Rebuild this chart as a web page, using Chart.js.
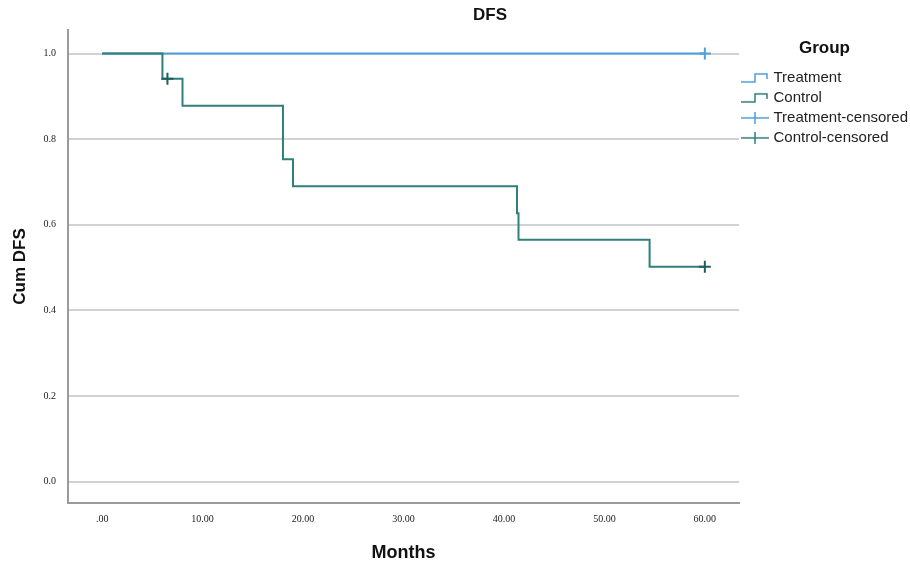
<!DOCTYPE html>
<html>
<head>
<meta charset="utf-8">
<script src="https://cdn.jsdelivr.net/npm/chart.js@4"></script>
<style>
html,body{margin:0;padding:0;background:#fff;}
#wrap{position:relative;width:910px;height:564px;}
</style>
</head>
<body>
<div id="wrap"><canvas id="c" width="910" height="564"></canvas></div>
<script>
// ---- data ----
const chartTitle = "DFS";
const xAxisTitle = "Months";
const yAxisTitle = "Cum DFS";
const legendTitle = "Group";
const seriesNames = ["Treatment", "Control", "Treatment-censored", "Control-censored"];
const xTicks = [0, 10, 20, 30, 40, 50, 60];
const yTicks = [0.0, 0.2, 0.4, 0.6, 0.8, 1.0];
const treatmentTimes = [0, 60];
const treatmentSurv = [1.0, 1.0];
const controlTimes = [0, 6, 8, 18, 19, 41.3, 41.45, 54.5, 60];
const controlSurv = [1.0, 0.941, 0.878, 0.753, 0.690, 0.627, 0.565, 0.502, 0.502];
const treatmentCensTimes = [60];
const treatmentCensSurv = [1.0];
const controlCensTimes = [6.5, 60];
const controlCensSurv = [0.941, 0.502];

const cTreat = "#4f9fdc";
const cControl = "#2f7f7c";
const cControlCens = "#1d5e5a";

function pts(xs, ys){ return xs.map((x,i)=>({x:x, y:ys[i]})); }

function stepIcon(color){
  const c = document.createElement('canvas'); c.width = 30; c.height = 14;
  const g = c.getContext('2d');
  g.strokeStyle = color; g.lineWidth = 1.5;
  g.beginPath();
  g.moveTo(1, 11); g.lineTo(15, 11); g.lineTo(15, 3); g.lineTo(27, 3); g.lineTo(27, 8);
  g.stroke();
  return c;
}
function crossIcon(color){
  const c = document.createElement('canvas'); c.width = 30; c.height = 14;
  const g = c.getContext('2d');
  g.strokeStyle = color; g.lineWidth = 1.5;
  g.beginPath();
  g.moveTo(1, 7); g.lineTo(29, 7);
  g.moveTo(15, 1); g.lineTo(15, 13);
  g.stroke();
  return c;
}
const icons = [stepIcon(cTreat), stepIcon(cControl), crossIcon(cTreat), crossIcon(cControl)];

const titlePlugin = {
  id: 'customTitle',
  afterDraw(chart){
    const ctx = chart.ctx;
    ctx.save();
    ctx.font = "bold 17px 'Liberation Sans', Arial, sans-serif";
    ctx.fillStyle = "#111";
    ctx.textAlign = "center";
    ctx.textBaseline = "middle";
    ctx.fillText(chartTitle, 490, 15);
    ctx.restore();
  }
};
const legendWidthPlugin = {
  id: 'legendWidth',
  beforeLayout(chart){
    const lg = chart.legend;
    if (lg && !lg._wpatched){
      const orig = lg.fit;
      lg.fit = function(){ orig.call(this); this.width = 171; };
      lg._wpatched = true;
    }
  }
};

new Chart(document.getElementById('c'), {
  type: 'line',
  data: {
    datasets: [
      { label: seriesNames[0], order: 3, data: pts(treatmentTimes, treatmentSurv), borderColor: cTreat, borderWidth: 2, stepped: 'before', pointRadius: 0, fill: false },
      { label: seriesNames[1], order: 2, data: pts(controlTimes, controlSurv), borderColor: cControl, borderWidth: 2, stepped: 'before', pointRadius: 0, fill: false },
      { label: seriesNames[2], order: 1, data: pts(treatmentCensTimes, treatmentCensSurv), showLine: false, pointStyle: 'cross', pointRadius: 6, pointBorderWidth: 2, borderColor: cTreat, backgroundColor: cTreat },
      { label: seriesNames[3], order: 0, data: pts(controlCensTimes, controlCensSurv), showLine: false, pointStyle: 'cross', pointRadius: 6, pointBorderWidth: 2, borderColor: cControlCens, backgroundColor: cControlCens }
    ]
  },
  options: {
    responsive: false,
    animation: false,
    layout: { padding: { top: 30, left: 0, right: 0, bottom: 0 } },
    scales: {
      x: {
        type: 'linear', min: -3.4, max: 63.4,
        afterBuildTicks(s){ s.ticks = xTicks.map(v=>({value:v})); },
        afterFit(s){ s.height = 61; },
        grid: { display: false, drawTicks: false },
        border: { display: true, color: '#9a9a9a', width: 2 },
        ticks: {
          padding: 10, color: '#222',
          font: { family: "'Liberation Serif', 'DejaVu Serif', serif", size: 10 },
          callback(v){ return v === 0 ? '.00' : v.toFixed(2); }
        },
        title: { display: true, text: xAxisTitle, color: '#111', font: { family: "'Liberation Sans', Arial, sans-serif", size: 18, weight: 'bold' }, padding: { top: 20, bottom: 0 } }
      },
      y: {
        type: 'linear', min: -0.05, max: 1.055,
        afterBuildTicks(s){ s.ticks = yTicks.map(v=>({value:v})); },
        afterFit(s){ s.width = 68; },
        grid: { color: '#d2d2d2', lineWidth: 2, drawTicks: false },
        border: { display: true, color: '#9a9a9a', width: 2 },
        ticks: {
          padding: 12, color: '#222',
          font: { family: "'Liberation Serif', 'DejaVu Serif', serif", size: 10 },
          callback(v){ return v.toFixed(1); }
        },
        title: { display: true, text: yAxisTitle, color: '#111', font: { family: "'Liberation Sans', Arial, sans-serif", size: 17, weight: 'bold' }, padding: { top: 10, bottom: 4 } }
      }
    },
    plugins: {
      title: { display: false },
      tooltip: { enabled: false },
      legend: {
        display: true, position: 'right', align: 'start',
        title: { display: true, text: legendTitle, color: '#111', padding: { top: 10, bottom: 5 }, font: { family: "'Liberation Sans', Arial, sans-serif", size: 17, weight: 'bold' } },
        labels: {
          usePointStyle: true, pointStyleWidth: 22, padding: 5, color: '#222',
          font: { family: "'Liberation Sans', Arial, sans-serif", size: 15 },
          generateLabels(chart){
            return chart.data.datasets.map((d,i)=>({ text: d.label, pointStyle: icons[i], fillStyle: 'transparent', strokeStyle: 'transparent', lineWidth: 0, hidden: false, datasetIndex: i, fontColor: '#222' }));
          }
        }
      }
    }
  },
  plugins: [titlePlugin, legendWidthPlugin]
});
</script>
</body>
</html>
